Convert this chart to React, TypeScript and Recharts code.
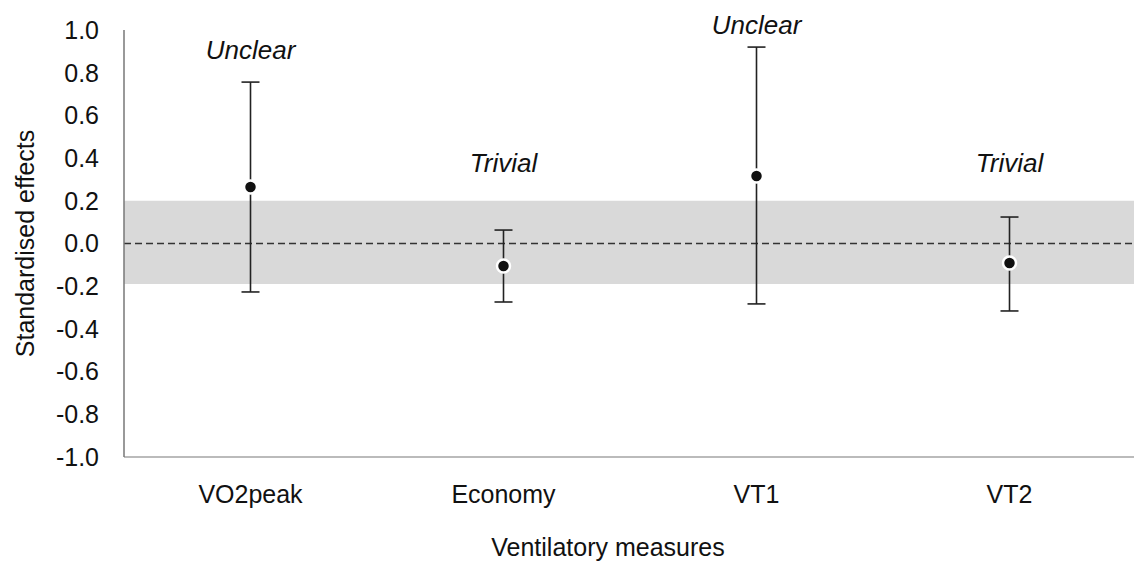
import React from "react";
import {
  ComposedChart,
  Line,
  XAxis,
  YAxis,
  ErrorBar,
  ReferenceArea,
  ReferenceLine,
  LabelList,
  Label,
} from "recharts";

const measures = ["VO2peak", "Economy", "VT1", "VT2"];
const effects = [0.265, -0.105, 0.316, -0.091];
const lowerCI = [-0.227, -0.274, -0.283, -0.316];
const upperCI = [0.756, 0.063, 0.92, 0.124];
const verdicts = ["Unclear", "Trivial", "Unclear", "Trivial"];
const verdictHeights = [0.906, 0.377, 1.023, 0.377];
const yTicks = [1, 0.8, 0.6, 0.4, 0.2, 0, -0.2, -0.4, -0.6, -0.8, -1];

const data = measures.map((name, i) => ({
  name,
  effect: effects[i],
  err: [effects[i] - lowerCI[i], upperCI[i] - effects[i]],
  verdictY: verdictHeights[i],
  verdict: verdicts[i],
}));

const FONT = "'Liberation Sans', Arial, sans-serif";

const Dot = (props: any) => {
  const { cx, cy } = props;
  if (cx == null || cy == null) return null;
  return <circle cx={cx} cy={cy} r={6.5} fill="#111" stroke="#fff" strokeWidth={2.5} />;
};

const Verdict = (props: any) => {
  const { x, y, value } = props;
  return (
    <text x={x} y={y} dy={9} textAnchor="middle" fontFamily={FONT} fontSize={26} fontStyle="italic" fill="#111">
      {value}
    </text>
  );
};

export default function App() {
  return (
    <div style={{ position: "absolute", left: 0, top: 0, width: 1134, height: 565, overflow: "hidden", background: "#fff" }}>
      <ComposedChart width={1136} height={565} data={data} margin={{ top: 30, right: 0, bottom: 0, left: 0 }}>
        <ReferenceArea y1={-0.19} y2={0.2} fill="#d9d9d9" fillOpacity={1} stroke="none" />
        <ReferenceLine y={0} stroke="#333" strokeWidth={1.5} strokeDasharray="7 4" />
        <XAxis
          dataKey="name"
          scale="band"
          height={108}
          tickLine={false}
          tickSize={6}
          tickMargin={22}
          axisLine={{ stroke: "#bbb", strokeWidth: 2 }}
          tick={{ fill: "#111", fontSize: 25, fontFamily: FONT }}
        >
          <Label value="Ventilatory measures" position="insideBottom" offset={9} dx={-22} fill="#111" fontSize={25} fontFamily={FONT} />
        </XAxis>
        <YAxis
          type="number"
          domain={[-1, 1]}
          ticks={yTicks}
          interval={0}
          width={124}
          tickLine={false}
          tickSize={6}
          tickMargin={19}
          axisLine={{ stroke: "#777", strokeWidth: 1.5 }}
          tickFormatter={(v: number) => v.toFixed(1)}
          tick={{ fill: "#111", fontSize: 25, fontFamily: FONT }}
          allowDataOverflow
        >
          <Label value="Standardised effects" angle={-90} position="center" dx={-37} fill="#111" fontSize={25} fontFamily={FONT} />
        </YAxis>
        <Line dataKey="effect" stroke="none" dot={<Dot />} activeDot={false} isAnimationActive={false}>
          <ErrorBar dataKey="err" direction="y" width={9} stroke="#222" strokeWidth={1.6} />
        </Line>
        <Line dataKey="verdictY" stroke="none" dot={false} activeDot={false} isAnimationActive={false}>
          <LabelList dataKey="verdict" content={<Verdict />} />
        </Line>
      </ComposedChart>
    </div>
  );
}
